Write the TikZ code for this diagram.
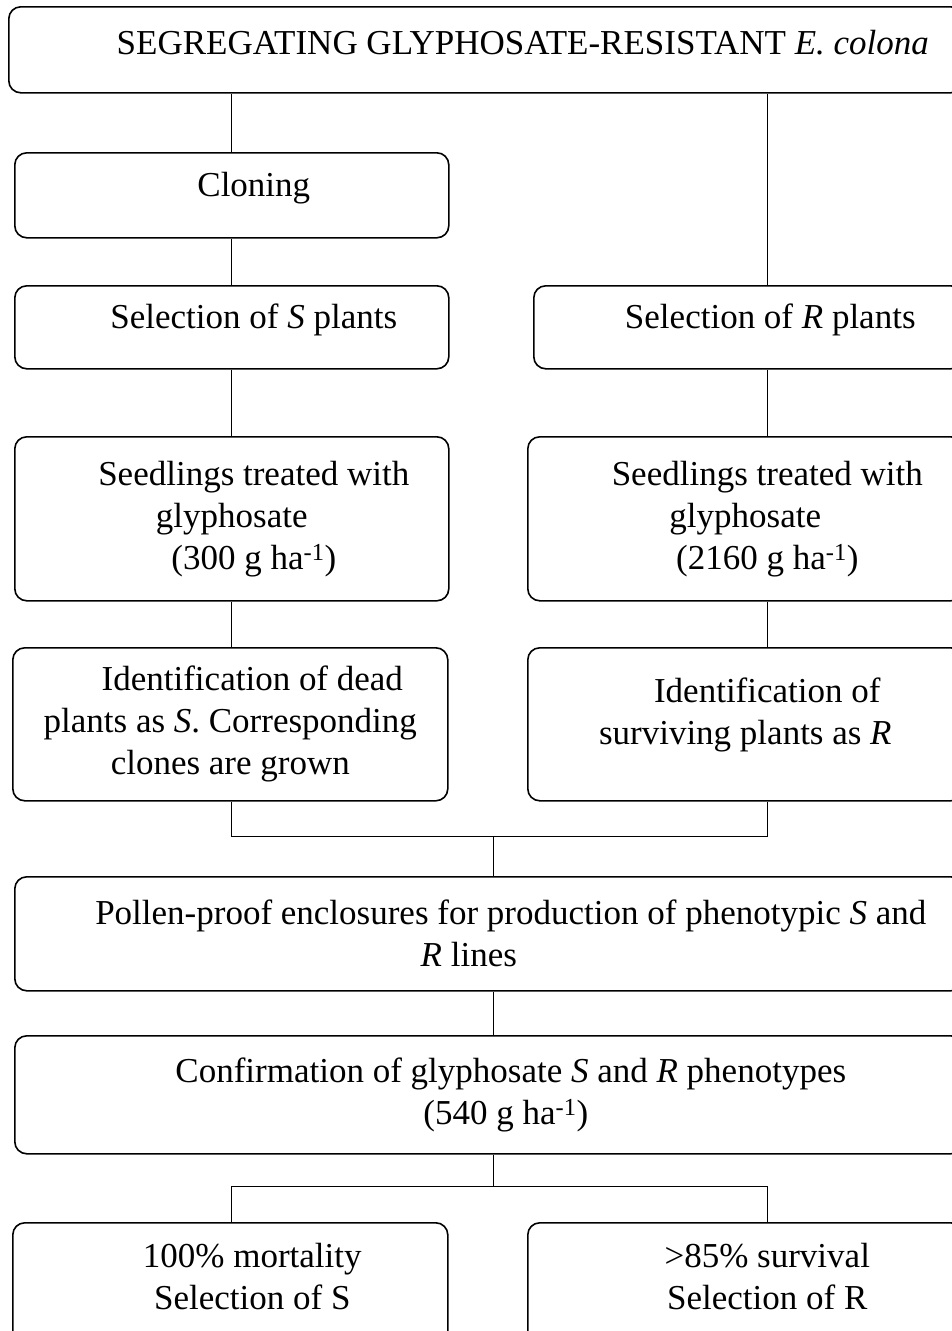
\documentclass[tikz,border=0pt]{standalone}
\usepackage{fontspec}
\setmainfont{Liberation Serif}
\usetikzlibrary{calc}

\newcommand{\lead}{\hspace*{44pt}}
\newcommand{\lift}[1]{\rule[-#1]{0pt}{#1}}

\tikzset{
  stepbox/.style={draw, rounded corners=12pt, line width=1.6pt, anchor=north west,
    align=center, inner sep=0pt, font=\fontsize{35}{42}\selectfont},
  link/.style={line width=1pt},
}

\begin{document}
\begin{tikzpicture}[x=1pt,y=-1pt]
\useasboundingbox (0,0) rectangle (952,1331);

% columns of the connectors
\coordinate (colL) at (231,0);
\coordinate (colM) at (493,0);
\coordinate (colR) at (767,0);

% population
\node[stepbox, minimum width=954pt, minimum height=86pt] (pop) at (8,6)
  {\hspace*{74pt}SEGREGATING GLYPHOSATE-RESISTANT \textit{E. colona}\lift{14pt}};

% left branch: S
\node[stepbox, minimum width=434pt, minimum height=85pt] (clone) at (14,152) {\lead Cloning\lift{22pt}};
\node[stepbox, minimum width=434pt, minimum height=83pt] (selS) at (14,285) {\lead Selection of \textit{S} plants\lift{23pt}};
\node[stepbox, minimum width=434pt, minimum height=164pt] (seedS) at (14,436)
  {\lead Seedlings treated with\\ glyphosate\\ \lead(300 g ha\textsuperscript{-1})};
\node[stepbox, minimum width=435pt, minimum height=153pt] (idS) at (12,647)
  {\lead Identification of dead\\ plants as \textit{S}. Corresponding\\ clones are grown};

% right branch: R
\node[stepbox, minimum width=429pt, minimum height=83pt] (selR) at (533,285) {\lead Selection of \textit{R} plants\lift{23pt}};
\node[stepbox, minimum width=435pt, minimum height=164pt] (seedR) at (527,436)
  {\lead Seedlings treated with\\ glyphosate\\ \lead(2160 g ha\textsuperscript{-1})};
\node[stepbox, minimum width=435pt, minimum height=153pt] (idR) at (527,647)
  {\lead Identification of\\ surviving plants as \textit{R}\lift{27pt}};

% joint steps
\node[stepbox, minimum width=948pt, minimum height=114pt] (pollen) at (14,876)
  {\lead Pollen-proof enclosures for production of phenotypic \textit{S} and\\ \textit{R} lines\hspace*{40pt}};
\node[stepbox, minimum width=948pt, minimum height=118pt] (confirm) at (14,1035)
  {\lead Confirmation of glyphosate \textit{S} and \textit{R} phenotypes\\ \hspace*{34pt}(540 g ha\textsuperscript{-1})};

% outcomes
\node[stepbox, minimum width=435pt, minimum height=123pt] (mortS) at (12,1222)
  {\lead 100\% mortality\\ \lead Selection of S\lift{15pt}};
\node[stepbox, minimum width=435pt, minimum height=123pt] (survR) at (527,1222)
  {\lead >85\% survival\\ \lead Selection of R\lift{15pt}};

% connectors
\draw[link] (pop.south -| colL) -- (clone.north -| colL);
\draw[link] (clone.south -| colL) -- (selS.north -| colL);
\draw[link] (selS.south -| colL) -- (seedS.north -| colL);
\draw[link] (seedS.south -| colL) -- (idS.north -| colL);

\draw[link] (pop.south -| colR) -- (selR.north -| colR);
\draw[link] (selR.south -| colR) -- (seedR.north -| colR);
\draw[link] (seedR.south -| colR) -- (idR.north -| colR);

\coordinate (joinUp) at (493,836);
\draw[link] (idS.south -| colL) |- (joinUp) -| (idR.south -| colR);
\draw[link] (joinUp) -- (pollen.north -| colM);
\draw[link] (pollen.south -| colM) -- (confirm.north -| colM);

\coordinate (joinDown) at (493,1186);
\draw[link] (confirm.south -| colM) -- (joinDown);
\draw[link] (mortS.north -| colL) |- (joinDown) -| (survR.north -| colR);

\end{tikzpicture}
\end{document}
